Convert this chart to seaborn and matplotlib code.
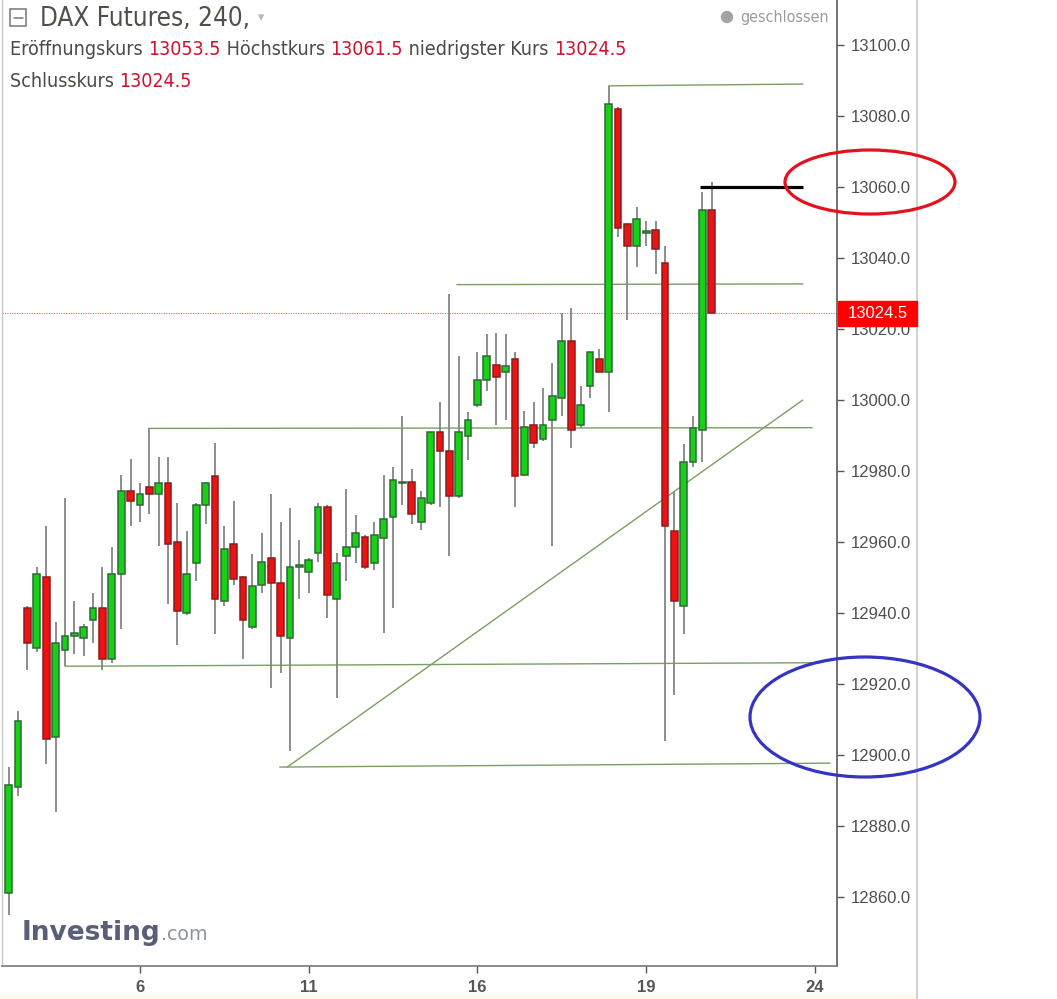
import numpy as np
import pandas as pd
import matplotlib
matplotlib.use("Agg")
import matplotlib.pyplot as plt
from matplotlib.patches import Ellipse, Rectangle
from matplotlib.lines import Line2D
from matplotlib import font_manager as fm
import seaborn as sns

# ---------------- data ----------------
opens = [12861, 12891, 12941.5, 12930, 12950, 12905, 12929.5, 12933.5, 12933, 12938,
         12941.5, 12927, 12951, 12974.5, 12970.5, 12975.5, 12973.5, 12976.5, 12960, 12940,
         12954, 12970.5, 12978.5, 12943.5, 12959.5, 12950, 12936, 12948, 12955.5, 12948.5,
         12933, 12953, 12951.5, 12957, 12970, 12944, 12956, 12958.5, 12961.5, 12954,
         12961, 12967, 12976.5, 12977, 12965.5, 12971, 12991, 12985.5, 12973, 12990,
         12998.5, 13005.5, 13010, 13008, 13011.5, 12979, 12993, 12989, 12994.5, 13000.5,
         13016.5, 12993, 13004, 13011.5, 13008, 13082, 13049.5, 13043.5, 13047, 13048,
         13038.5, 12963, 12942, 12982.5, 12991.5, 13053.5]
highs = [12896.5, 12912.5, 12942, 12953, 12964.5, 12937.5, 12972.5, 12943.5, 12937, 12945.5,
         12953, 12958.5, 12979, 12983.5, 12976.5, 12992, 12984, 12984, 12971, 12963,
         12971, 12977, 12988, 12964.5, 12971.5, 12950.5, 12956.5, 12962.5, 12973.5, 12965.5,
         12969.5, 12960.5, 12955.5, 12971, 12970.5, 12957, 12975, 12967.5, 12962, 12965.5,
         12979, 12981, 12995.5, 12980.5, 12974.5, 12991, 12999.5, 13030, 13012.5, 12996.5,
         13013.5, 13018.5, 13019, 13018.5, 13013.5, 12997, 12999.5, 13003.5, 13010.5, 13024.5,
         13026, 13004, 13013.5, 13014.5, 13088.5, 13082.5, 13050, 13054.5, 13050.5, 13050.5,
         13043.5, 12974, 12987.5, 12995.5, 13058.5, 13061.5]
lows = [12855, 12888.5, 12924, 12929, 12897.5, 12884, 12925, 12928.5, 12928, 12931.5,
        12924, 12926, 12935.5, 12964.5, 12965.5, 12968, 12959, 12942.5, 12931, 12939.5,
        12949, 12965, 12934, 12942, 12948, 12927, 12935.5, 12945.5, 12919, 12923,
        12901, 12944, 12945.5, 12954.5, 12938.5, 12916, 12949, 12954, 12952.5, 12952,
        12934.5, 12941.5, 12970.5, 12965, 12963.5, 12970.5, 12970, 12956, 12972.5, 12983,
        12998, 13002.5, 12993, 12994.5, 12970, 12978.5, 12986.5, 12988.5, 12959, 12995.5,
        12986.5, 12992, 13000.5, 13008, 12996.5, 13046, 13022.5, 13037.5, 13043.5, 13035.5,
        12904, 12917, 12934, 12981, 12982.5, 13024.5]
closes = [12891.5, 12909.5, 12931.5, 12951, 12904.5, 12931.5, 12933.5, 12934.5, 12936, 12941.5,
          12927, 12951, 12974.5, 12971.5, 12973.5, 12973.5, 12976.5, 12959.5, 12940.5, 12951,
          12970.5, 12976.5, 12944, 12958, 12949.5, 12938, 12947.5, 12954.5, 12948.5, 12933.5,
          12953, 12953.5, 12955, 12970, 12945, 12954, 12958.5, 12962.5, 12953, 12962,
          12966.5, 12977.5, 12977, 12968, 12972.5, 12991, 12985.5, 12973, 12991, 12994.5,
          13005.5, 13012.5, 13006.5, 13009.5, 12978.5, 12992.5, 12988, 12993, 13001, 13016.5,
          12991.5, 12998.5, 13013.5, 13008, 13083.5, 13048.5, 13043.5, 13051, 13047.5, 13042.5,
          12964.5, 12943.5, 12982.5, 12992, 13053.5, 13024.5]

x_tick_positions = [14, 32, 50, 68, 86]
x_tick_labels = ["6", "11", "16", "19", "24"]
y_tick_values = [12860, 12880, 12900, 12920, 12940, 12960, 12980, 13000, 13020, 13040, 13060, 13080, 13100]

# drawn support / resistance lines (bar index, price)
level_x0 = [64, 47.8, 15, 6, 28.9]
level_x1 = [84.7, 84.7, 85.7, 86.5, 87.6]
level_y0 = [13088.5, 13032.5, 12992, 12925, 12896.6]
level_y1 = [13089, 13032.7, 12992.2, 12926, 12897.7]
trend_x = [29.7, 84.7]
trend_y = [12896.6, 13000]
mark_x = [73.7, 84.7]
mark_y = [13060, 13060]

title = "DAX Futures, 240,"
status = "geschlossen"

# ---------------- style ----------------
sns.set_theme(style="white")
plt.rcParams["font.family"] = ["Liberation Sans", "DejaVu Sans"]

available = {f.name for f in fm.fontManager.ttflist}
NARROW = "Liberation Sans Narrow" if "Liberation Sans Narrow" in available else "Liberation Sans"

W, H = 1057, 999
fig = plt.figure(figsize=(W / 100, H / 100), dpi=100)
fig.patch.set_facecolor("white")

def fx(px):
    return px / W

def fy(py):
    return 1 - py / H

ax = fig.add_axes([fx(2), fy(966), fx(837) - fx(2), 966 / H])
ax.set_facecolor("white")

df = pd.DataFrame({"open": opens, "high": highs, "low": lows, "close": closes})
df["i"] = np.arange(len(df))
df["up"] = df["close"] >= df["open"]
df["bottom"] = df[["open", "close"]].min(axis=1)
df["height"] = (df["close"] - df["open"]).abs().clip(lower=0.45)

GREEN, GREEN_E = "#17d017", "#2c6a34"
RED, RED_E = "#f01212", "#8a1d1d"

ax.vlines(df["i"], df["low"], df["high"], color="#858585", lw=1.3, zorder=2)
u = df[df["up"]]
d = df[~df["up"]]
ax.bar(u["i"], u["height"], bottom=u["bottom"], width=0.72, color=GREEN,
       edgecolor=GREEN_E, linewidth=1.1, zorder=3)
ax.bar(d["i"], d["height"], bottom=d["bottom"], width=0.72, color=RED,
       edgecolor=RED_E, linewidth=1.1, zorder=3)

# drawn lines
LINEC = "#79a062"
for a, b, c, e in zip(level_x0, level_x1, level_y0, level_y1):
    ax.plot([a, b], [c, e], color=LINEC, lw=1.0, zorder=1.5)
ax.plot(trend_x, trend_y, color=LINEC, lw=1.0, zorder=1.5)
ax.plot(mark_x, mark_y, color="black", lw=2.3, zorder=4, solid_capstyle="butt")

# last price dotted line
last = closes[-1]
ax.axhline(last, color="#e06a6a", lw=0.8, ls=(0, (1, 1.2)), zorder=1)

# axes limits
ax.set_xlim(-0.72, 88.35)
ax.set_ylim(12840.56, 13112.68)

# ticks
ax.yaxis.tick_right()
ax.set_yticks(y_tick_values)
ax.set_yticklabels([f"{v:.1f}" for v in y_tick_values], fontsize=12, color="#4f4f4f")
ax.tick_params(axis="y", which="both", right=True, left=False, length=5, width=1,
               color="#555555", pad=5)
ax.set_xticks(x_tick_positions)
ax.set_xticklabels(x_tick_labels, fontsize=12, color="#555555", fontweight="bold",
                   family=[NARROW, "DejaVu Sans"])
ax.tick_params(axis="x", bottom=True, length=5, width=1, color="#555555", pad=5)

ax.spines["top"].set_visible(False)
ax.spines["left"].set_color("#c8c8c8")
ax.spines["left"].set_linewidth(1.0)
ax.spines["right"].set_color("#5a5a5a")
ax.spines["right"].set_linewidth(1.2)
ax.spines["bottom"].set_color("#777777")
ax.spines["bottom"].set_linewidth(1.2)
ax.grid(False)

# right border of screenshot panel and bottom strip
fig.add_artist(Line2D([fx(917), fx(917)], [fy(999), fy(0)], color="#c8c8c8", lw=1.2))
fig.add_artist(Rectangle((0, 0), fx(917), 4 / H, transform=fig.transFigure,
                         color="#fdf8e8", zorder=0))

# price label box at last close
renderer = fig.canvas.get_renderer()
ypix = ax.transData.transform((0, last))[1]
yfrac = ypix / H
fig.add_artist(Rectangle((fx(838), yfrac - 12.5 / H), 79 / W, 25 / H,
                         transform=fig.transFigure, color="#ff0000", zorder=5))
fig.text(fx(877.5), yfrac, f"{last:.1f}", color="white", fontsize=12,
         ha="center", va="center", zorder=6)

# ---------------- header texts ----------------
def width_px(s, **kw):
    t = fig.text(0, 0, s, **kw)
    w = t.get_window_extent(renderer=renderer).width
    t.remove()
    return w

HFAM = ["DejaVu Sans"]
GRAY = "#4c4c44"
REDT = "#d3112b"

def fit(s, target, base=12, **kw):
    return base * target / width_px(s, fontsize=base, **kw)

def chain(x0, ybase, segs, size, **kw):
    x = x0
    for s, c in segs:
        t = fig.text(fx(x), fy(ybase), s, color=c, fontsize=size, va="baseline",
                     ha="left", **kw)
        x += t.get_window_extent(renderer=renderer).width
    return x

# collapse icon
fig.add_artist(Rectangle((fx(10), fy(26)), 16 / W, 17 / H, transform=fig.transFigure,
                         fill=False, ec="#777777", lw=1.1))
fig.add_artist(Line2D([fx(13.5), fx(22.5)], [fy(17.5), fy(17.5)], color="#777777", lw=1.1))

tsize = fit(title, 210, family=HFAM, fontstretch="condensed")
fig.text(fx(40), fy(26), title, fontsize=tsize, color="#505048", family=HFAM,
         fontstretch="condensed", va="baseline")
fig.text(fx(258), fy(21), "\u25BE", fontsize=9, color="#b5b5b5", family=HFAM, va="baseline")
for xx in (287, 313):
    fig.add_artist(Rectangle((fx(xx), fy(28)), 23 / W, 23 / H, transform=fig.transFigure,
                             color="#fdf7e6", zorder=0))

line2 = [("Eröffnungskurs ", GRAY), (f"{opens[-1]:.1f}", REDT),
         (" Höchstkurs ", GRAY), (f"{highs[-1]:.1f}", REDT),
         (" niedrigster Kurs ", GRAY), (f"{lows[-1]:.1f}", REDT)]
full2 = "".join(s for s, _ in line2)
s2 = fit(full2, 617, family=HFAM, fontstretch="condensed")
chain(10, 55, line2, s2, family=HFAM, fontstretch="condensed")
line3 = [("Schlusskurs ", GRAY), (f"{closes[-1]:.1f}", REDT)]
chain(10, 87, line3, s2, family=HFAM, fontstretch="condensed")

# status
ssize = fit(status, 89, family=HFAM, fontstretch="condensed")
fig.text(fx(740), fy(22), status, fontsize=ssize, color="#9c9c9c", family=HFAM,
         fontstretch="condensed", va="baseline")
fig.add_artist(Ellipse((fx(727), fy(17)), 11 / W, 11 / H, transform=fig.transFigure,
                       color="#a3a3a3"))

# logo
lsize = fit("Investing", 138, family=HFAM, weight="bold")
xend = chain(22, 940, [("Investing", "#5a5f78")], lsize, family=HFAM, weight="bold")
chain(xend, 940, [(".com", "#8d91a3")], lsize * 0.72, family=HFAM)

# annotation ellipses
fig.add_artist(Ellipse((fx(870), fy(182)), 170 / W, 64 / H, transform=fig.transFigure,
                       fill=False, ec="#e3121c", lw=2.3, zorder=7))
fig.add_artist(Ellipse((fx(865), fy(717)), 230 / W, 120 / H, transform=fig.transFigure,
                       fill=False, ec="#3535c2", lw=2.3, zorder=7))

fig.savefig("out.png", dpi=100, facecolor="white")
